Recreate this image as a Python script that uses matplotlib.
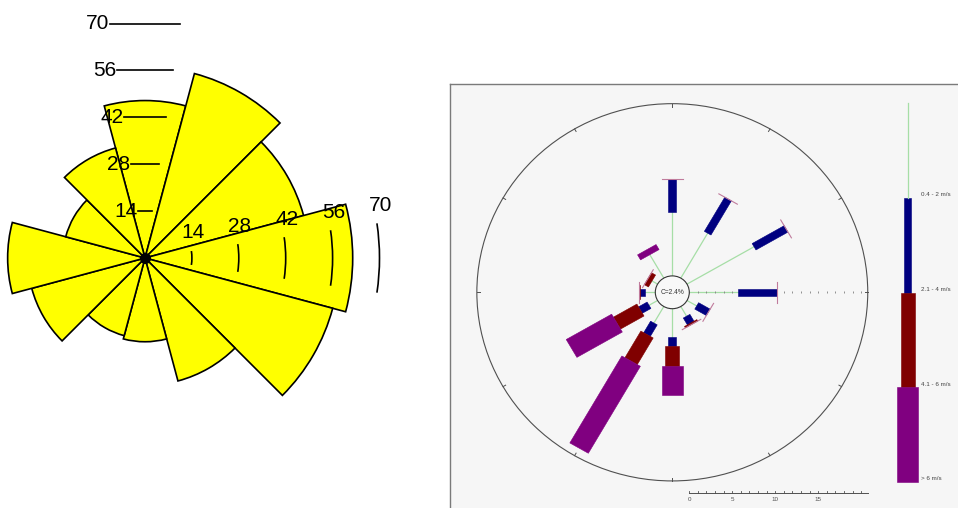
import numpy as np
import matplotlib
matplotlib.use("Agg")
import matplotlib.pyplot as plt
from matplotlib.patches import Wedge, Arc, Polygon, Circle, Rectangle

# ---- left rose: 12 sectors, frequency per direction
left_dirs = [0, 30, 60, 90, 120, 150, 180, 210, 240, 270, 300, 330]
left_vals = [47, 57, 49, 62, 58, 38, 25, 24, 35, 41, 24.5, 34]
left_rings = [14, 28, 42, 56, 70]

# ---- right rose: per direction, length (%) of each speed class segment
right_dirs = [0, 30, 60, 90, 120, 150, 180, 210, 240, 270, 300, 330]
seg_green = [7.7, 6.25, 9.0, 5.65, 1.3, 1.35, 3.35, 2.3, 1.15, 1.25, 0.75, 3.25]
seg_navy = [4.0, 4.75, 4.3, 4.55, 1.55, 0.95, 1.1, 1.6, 1.15, 0.5, 0.0, 0.0]
seg_red = [0.0, 0.0, 0.0, 0.0, 0.0, 0.2, 2.4, 3.7, 3.15, 0.15, 0.55, 0.0]
seg_purple = [0.0, 0.0, 0.0, 0.0, 0.0, 0.0, 3.5, 12.1, 6.1, 0.0, 0.0, 0.7]
calm_pct = 2.4
classes = ["0.4 - 2 m/s", "2.1 - 4 m/s", "4.1 - 6 m/s", "> 6 m/s"]
class_colors = ["#a6dea6", "#000080", "#800000", "#800080"]
class_width_px = [1.0, 7.5, 14.0, 21.0]
scale_max = 20.75
scale_labels = [0, 5, 10, 15]

W, H = 958, 508
fig = plt.figure(figsize=(W / 100, H / 100), dpi=100)
fig.patch.set_facecolor("white")

# ================= left chart =================
px = 3.35          # pixels per unit
cx, cy = 145, 258  # centre in pixels
ax1 = fig.add_axes([0, 0, 440 / W, 1])
ax1.set_xlim(-cx / px, (440 - cx) / px)
ax1.set_ylim(-(H - cy) / px, cy / px)
ax1.axis("off")

half = 15
for d, v in zip(left_dirs, left_vals):
    a = 90 - d
    ax1.add_patch(Wedge((0, 0), v, a - half, a + half, facecolor="#ffff00",
                        edgecolor="black", linewidth=1.2))
ax1.plot(0, 0, "o", color="black", ms=7)

tick_half = 8.5
s = np.sin(np.radians(tick_half))
for r in left_rings:
    # north scale: short horizontal marks, labels to the left
    ax1.plot([-r * s, r * s], [r, r], color="black", lw=1.2)
    ax1.text(-r * s - 0.2, r, str(r), ha="right", va="center", fontsize=15,
             family="Liberation Sans")
    # east scale: arcs, labels above
    ax1.add_patch(Arc((0, 0), 2 * r, 2 * r, theta1=-tick_half,
                      theta2=tick_half, color="black", lw=1.2))
    ax1.text(r + 0.3, r * s + 5.4, str(r), ha="center", va="center",
             fontsize=15, family="Liberation Sans")

# ================= right chart =================
x0, y0 = 449.5, 83.5          # panel top-left in pixels
sx, sy = 8.6, 8.3             # pixels per % (x, y)
rcx, rcy = 672.3, 292.3       # rose centre in pixels
ax2 = fig.add_axes([x0 / W, 0, (W - x0) / W, (H - y0) / H])
ax2.set_facecolor("#f6f6f6")
ax2.set_xlim(-(rcx - x0) / sx, (W - rcx) / sx)
ax2.set_ylim(-(H - rcy) / sy, (rcy - y0) / sy)
ax2.set_xticks([])
ax2.set_yticks([])
for side in ["right", "bottom"]:
    ax2.spines[side].set_visible(False)
for side in ["left", "top"]:
    ax2.spines[side].set_color("#7a7a7a")
    ax2.spines[side].set_linewidth(1.0)

calm_r = 16.7 / 8.45
R = calm_r + scale_max
avg = 8.45

ax2.add_patch(Circle((0, 0), R, fill=False, edgecolor="#505050", lw=0.8))
for a in range(0, 360, 30):
    t = np.radians(a)
    ax2.plot([(R - 0.35) * np.sin(t), R * np.sin(t)],
             [(R - 0.35) * np.cos(t), R * np.cos(t)], color="#505050", lw=0.7)

# radial scale ticks along east
ks = np.arange(0, int(scale_max) + 1)
ax2.plot(calm_r + ks, np.zeros_like(ks), "|", color="#808080", ms=2.0, mew=0.6,
         zorder=2)


def seg_poly(t, r0, r1, w):
    u = np.array([np.sin(t), np.cos(t)])
    p = np.array([np.cos(t), -np.sin(t)])
    return [r0 * u + w / 2 * p, r1 * u + w / 2 * p,
            r1 * u - w / 2 * p, r0 * u - w / 2 * p]


for i, d in enumerate(right_dirs):
    t = np.radians(d)
    segs = [seg_green[i], seg_navy[i], seg_red[i], seg_purple[i]]
    r0 = calm_r
    for k, L in enumerate(segs):
        r1 = r0 + L
        if L > 0:
            if k == 0:
                ax2.plot([r0 * np.sin(t), r1 * np.sin(t)],
                         [r0 * np.cos(t), r1 * np.cos(t)],
                         color=class_colors[0], lw=0.9, zorder=1)
            else:
                w = class_width_px[k] / avg
                ax2.add_patch(Polygon(seg_poly(t, r0, r1, w), closed=True,
                                      facecolor=class_colors[k],
                                      edgecolor=class_colors[k], lw=0.4,
                                      zorder=3))
        r0 = r1
    if seg_purple[i] == 0:
        w = class_width_px[3] / avg
        q = seg_poly(t, r0, r0, w)
        ax2.plot([q[0][0], q[2][0]], [q[0][1], q[2][1]], color="#c07b9c",
                 lw=0.8, zorder=4)

ax2.add_patch(Circle((0, 0), calm_r, facecolor="#f8f8f8", edgecolor="#333333",
                     lw=0.8, zorder=5))
ax2.text(0, 0, f"C={calm_pct}%", ha="center", va="center", fontsize=4.8,
         color="#333333", family="Liberation Sans", zorder=6)

# scale bar
yb = -(492.7 - rcy) / sy
ax2.plot([calm_r, calm_r + scale_max], [yb, yb], color="#505050", lw=0.7)
for k in ks:
    ax2.plot([calm_r + k, calm_r + k], [yb, yb + 0.22], color="#505050", lw=0.6)
for v in scale_labels:
    ax2.text(calm_r + v, yb - 0.8, str(v), ha="center", va="center",
             fontsize=4.5, color="#505050", family="Liberation Sans")

# legend (pixel coordinates)
leg = fig.add_axes([880 / W, 0, 78 / W, 1])
leg.set_xlim(880, 958)
leg.set_ylim(H, 0)
leg.axis("off")
lx = 907.7
bounds = [103, 198, 292.5, 387, 482]
for k in range(4):
    ya, yz = bounds[k], bounds[k + 1]
    if k == 0:
        leg.plot([lx, lx], [ya, yz], color=class_colors[0], lw=0.9)
    else:
        w = class_width_px[k]
        leg.add_patch(Rectangle((lx - w / 2, ya), w, yz - ya,
                                facecolor=class_colors[k],
                                edgecolor=class_colors[k], lw=0.4))
    leg.text(921, yz - 3, classes[k], ha="left", va="center", fontsize=4.5,
             color="#444444", family="Liberation Sans")

fig.savefig("out.png", dpi=100)
